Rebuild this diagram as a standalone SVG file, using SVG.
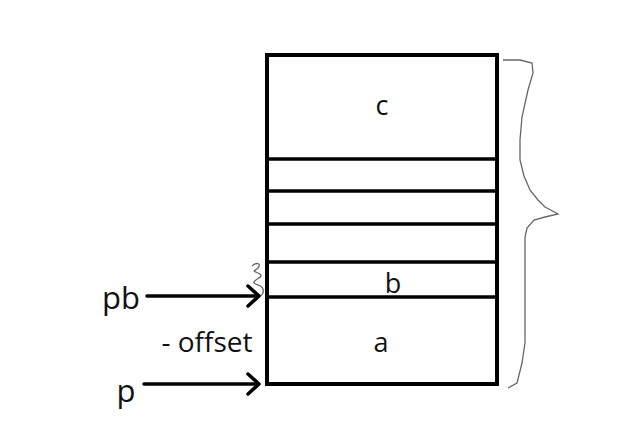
<svg xmlns="http://www.w3.org/2000/svg" width="623" height="436" viewBox="0 0 623 436">
<style>
.box{fill:none;stroke:#000;stroke-width:4}
.div{stroke:#000;stroke-width:3.5}
.lbl{font-family:"Open Sans","Noto Sans",sans-serif;fill:#111}
.arr{stroke:#000;stroke-width:3.5;fill:none;stroke-linecap:round;stroke-linejoin:round}
.thin{fill:none;stroke:#666;stroke-width:1.3}
</style>
<rect width="623" height="436" fill="#fff"/>
<g id="memory">
<rect class="box" x="267" y="55" width="230" height="329"/>
<line class="div" x1="267" y1="159" x2="497" y2="159"/>
<line class="div" x1="267" y1="191" x2="497" y2="191"/>
<line class="div" x1="267" y1="224" x2="497" y2="224"/>
<line class="div" x1="267" y1="262" x2="497" y2="262"/>
<line class="div" x1="267" y1="297" x2="497" y2="297"/>
</g>
<g id="c"><text class="lbl" x="382" y="115" font-size="27" text-anchor="middle">c</text></g>
<g id="b"><text class="lbl" x="393" y="293" font-size="27" text-anchor="middle">b</text></g>
<g id="a"><text class="lbl" x="381" y="352" font-size="27" text-anchor="middle">a</text></g>
<g id="pb"><text class="lbl" x="121" y="309" font-size="31" text-anchor="middle">pb</text></g>
<g id="offset"><text class="lbl" x="207" y="352" font-size="28" text-anchor="middle">- offset</text></g>
<g id="p"><text class="lbl" x="126" y="402" font-size="31" text-anchor="middle">p</text></g>
<g id="brace"><path class="thin" d="M503,60 L520,60 L532,63 L533,73 L528,90 L522,117 L520,140 L520,160 L524,176 L530,190 L538,200 L545,207 L558,214 L545,217 L534,220 L527,228 L525,237 L525,300 L525,343 L522,363 L517,383 L508,388"/></g>
<g id="squiggle"><path class="thin" d="M252,266 C256,262 262,263 258,268 C253,272 252,270 260,274 C264,277 255,279 254,282 C253,285 262,284 263,289 C264,293 262,295 260,296"/></g>
<g id="connectors">
<line class="arr" x1="147" y1="296" x2="258" y2="296"/>
<polyline class="arr" points="248,286 259,296 248,306"/>
<line class="arr" x1="144" y1="384" x2="258" y2="384"/>
<polyline class="arr" points="248,374 259,384 248,394"/>
</g>
</svg>
